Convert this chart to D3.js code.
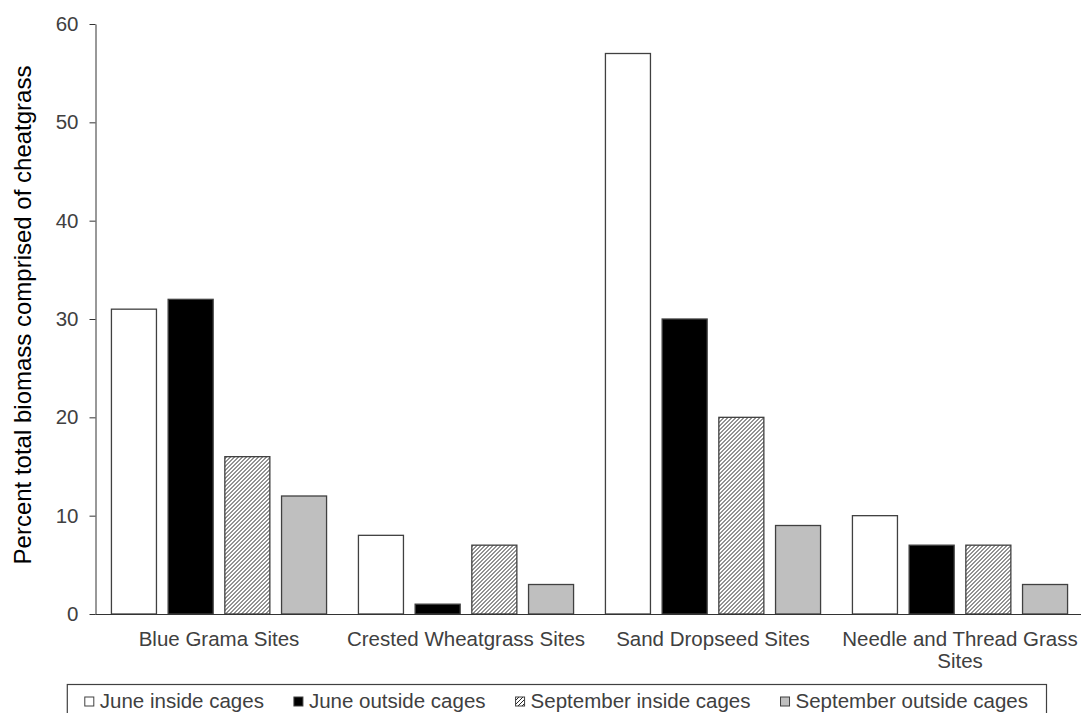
<!DOCTYPE html>
<html>
<head>
<meta charset="utf-8">
<script src="https://cdn.jsdelivr.net/npm/d3@7"></script>
<style>
  html, body { margin: 0; padding: 0; background: #fff; }
  svg { display: block; font-family: "Liberation Sans", Arial, sans-serif; }
</style>
</head>
<body>
<svg id="chart" width="1081" height="713"></svg>
<script>
// ---- data ----
const categories = ["Blue Grama Sites", "Crested Wheatgrass Sites", "Sand Dropseed Sites", "Needle and Thread Grass Sites"];
const categoryLines = [["Blue Grama Sites"], ["Crested Wheatgrass Sites"], ["Sand Dropseed Sites"], ["Needle and Thread Grass", "Sites"]];
const seriesNames = ["June inside cages", "June outside cages", "September inside cages", "September outside cages"];
const juneInside = [31, 8, 57, 10];
const juneOutside = [32, 1, 30, 7];
const septInside = [16, 7, 20, 7];
const septOutside = [12, 3, 9, 3];
const yTicks = [0, 10, 20, 30, 40, 50, 60];
const yTitle = "Percent total biomass comprised of cheatgrass";

const seriesValues = [juneInside, juneOutside, septInside, septOutside];

const svg = d3.select("#chart");

// pattern
const defs = svg.append("defs");
const pat = defs.append("pattern").attr("id", "hatch")
  .attr("patternUnits", "userSpaceOnUse").attr("width", 4).attr("height", 4);
pat.append("rect").attr("width", 4).attr("height", 4).attr("fill", "#fff");
pat.append("path").attr("d", "M-1,1 l2,-2 M0,4 l4,-4 M3,5 l2,-2")
  .attr("stroke", "#262626").attr("stroke-width", 1);

const fills = ["#ffffff", "#000000", "url(#hatch)", "#bfbfbf"];
const strokeCol = "#404040";
const textCol = "#404040";

const x0 = d3.scaleBand().domain(categories).range([95.5, 1083.5]).padding(0);
const x1 = d3.scaleBand().domain(seriesNames).range([0, x0.bandwidth()])
  .paddingInner(0.206).paddingOuter(0.281);
const y = d3.scaleLinear().domain([0, 60]).range([614, 24]);

// bars
const groups = svg.append("g").selectAll("g").data(categories).join("g")
  .attr("transform", d => `translate(${x0(d)},0)`);
groups.selectAll("rect")
  .data((c, ci) => seriesNames.map((s, si) => ({ s, si, v: seriesValues[si][ci] })))
  .join("rect")
  .attr("x", d => x1(d.s))
  .attr("y", d => y(d.v))
  .attr("width", x1.bandwidth())
  .attr("height", d => y(0) - y(d.v))
  .attr("fill", d => fills[d.si])
  .attr("stroke", strokeCol)
  .attr("stroke-width", 1.3);

// y axis
const yAxis = svg.append("g").attr("transform", "translate(95.5,0)")
  .call(d3.axisLeft(y).tickValues(yTicks).tickSize(6).tickSizeOuter(0).tickPadding(11));
yAxis.select(".domain").attr("stroke", "#333");
yAxis.selectAll(".tick line").attr("stroke", "#333");
yAxis.selectAll("text").attr("font-size", "20.5px").attr("fill", textCol)
  .attr("font-family", "Liberation Sans, Arial, sans-serif");

// x axis line
svg.append("line").attr("x1", x0.range()[0]).attr("x2", x0.range()[1])
  .attr("y1", y(0) + 0.5).attr("y2", y(0) + 0.5).attr("stroke", "#333").attr("stroke-width", 1.2);

// x labels
categories.forEach((c, i) => {
  const t = svg.append("text")
    .attr("x", x0(c) + x0.bandwidth() / 2)
    .attr("y", 646)
    .attr("text-anchor", "middle")
    .attr("font-size", "20.5px")
    .attr("fill", textCol);
  categoryLines[i].forEach((ln, j) => {
    t.append("tspan").attr("x", x0(c) + x0.bandwidth() / 2).attr("dy", j === 0 ? 0 : 22).text(ln);
  });
});

// y title
svg.append("text")
  .attr("transform", `translate(31,${(y(0) + y(60)) / 2 - 4}) rotate(-90)`)
  .attr("text-anchor", "middle")
  .attr("font-size", "24px")
  .attr("fill", "#000")
  .text(yTitle);

// legend
const legend = svg.append("g");
const items = legend.selectAll("g").data(seriesNames).join("g");
items.append("rect")
  .attr("width", 9).attr("height", 9)
  .attr("fill", (d, i) => fills[i])
  .attr("stroke", strokeCol).attr("stroke-width", 1);
items.append("text").attr("font-size", "20.5px").attr("fill", textCol).text(d => d);
const widths = [];
items.select("text").each(function () { widths.push(this.getComputedTextLength()); });
const swW = 10, swGap = 5, itemGap = 30, pad = 18;
const total = widths.reduce((a, b) => a + b, 0) + seriesNames.length * (swW + swGap) + (seriesNames.length - 1) * itemGap;
const contentRight = 1028;
let cx = contentRight - total;
items.each(function (d, i) {
  const g = d3.select(this);
  g.select("rect").attr("x", cx).attr("y", 697);
  g.select("text").attr("x", cx + swW + swGap).attr("y", 708);
  cx += swW + swGap + widths[i] + itemGap;
});
legend.insert("rect", ":first-child")
  .attr("x", contentRight - total - pad + 0.5).attr("y", 684.5)
  .attr("width", total + 2 * pad).attr("height", 50)
  .attr("fill", "#fff").attr("stroke", "#404040").attr("stroke-width", 1.2);
</script>
</body>
</html>
